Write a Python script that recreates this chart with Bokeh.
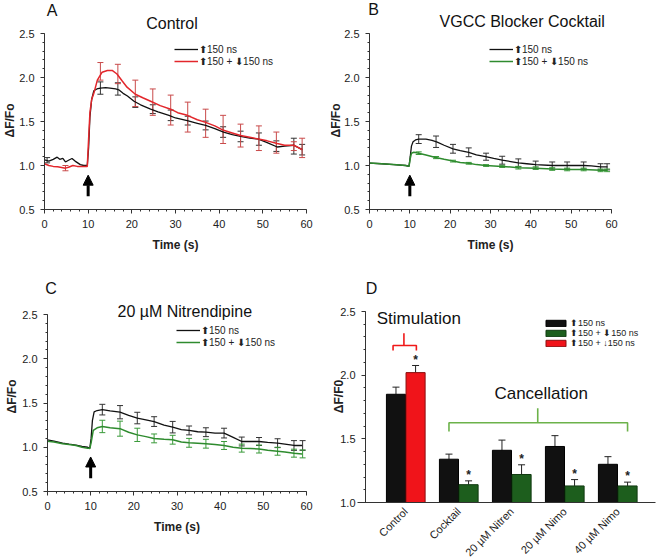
import math
from bokeh.plotting import figure
from bokeh.models import (ColumnDataSource, Whisker, TeeHead, Arrow, NormalHead, Label,
                          SingleIntervalTicker, FixedTicker, Legend, LegendItem, Range1d,
                          NumeralTickFormatter)
from bokeh.layouts import column, row
from bokeh.embed import file_html
from bokeh.resources import INLINE
from bokeh.core.properties import value

FONT = "Liberation Sans"
BLACK = "#111111"
RED = "#e3262b"
GREEN = "#2e8b2e"
DGREEN = "#1d5e1d"
AXC = "#333333"

# ---------------- Panel A: Control ----------------
a_t_black = [0, 1, 2, 2.9, 3.5, 4.2, 4.8, 5.5, 6.3, 7, 8.2, 9, 9.8, 10.1, 10.4, 10.8, 11.3, 12, 12.8, 14, 15,
             16.3, 17, 18, 19, 20.5, 22, 24.3, 26, 28.5, 30, 32.7, 35, 36.9, 39, 41, 43, 44.9, 47, 49, 51,
             53.3, 55, 57.1, 59]
a_v_black = [1.065, 1.05, 1.07, 1.095, 1.07, 1.08, 1.04, 1.06, 1.08, 1.05, 1.01, 1.0, 1.0, 1.2, 1.55, 1.75,
             1.85, 1.87, 1.88, 1.885, 1.88, 1.87, 1.86, 1.82, 1.79, 1.73, 1.69, 1.64, 1.61, 1.57, 1.54, 1.51,
             1.48, 1.455, 1.42, 1.38, 1.35, 1.33, 1.31, 1.30, 1.26, 1.21, 1.22, 1.23, 1.18]
a_t_red = [0, 1, 2, 3, 4.8, 5.5, 6.5, 7.5, 8.5, 9.8, 10.1, 10.4, 10.8, 11.3, 12.1, 13.2, 14.4, 15.5, 16.6,
           17.8, 18.9, 20.8, 22.5, 24.3, 26.5, 28.9, 30.5, 32.7, 35, 36.9, 39, 41, 43, 44.9, 47, 49, 51,
           53.3, 55, 57.1, 59]
a_v_red = [1.02, 1.0, 0.99, 0.985, 0.97, 0.98, 1.0, 0.99, 0.99, 0.99, 1.3, 1.6, 1.75, 1.82, 1.97, 2.06, 2.08,
           2.08, 2.04, 1.96, 1.89, 1.81, 1.77, 1.73, 1.68, 1.64, 1.60, 1.57, 1.52, 1.49, 1.45, 1.40, 1.37,
           1.34, 1.32, 1.30, 1.28, 1.25, 1.23, 1.23, 1.18]
a_err_t_black = [0.6, 12.8, 16.8, 20.8, 24.8, 28.9, 32.8, 36.9, 40.9, 44.9, 49.1, 53.1, 57.1, 59.0]
a_err_m_black = [1.06, 1.88, 1.87, 1.72, 1.64, 1.57, 1.51, 1.455, 1.38, 1.33, 1.30, 1.22, 1.22, 1.18]
a_err_e_black = [0.03, 0.07, 0.07, 0.06, 0.05, 0.06, 0.05, 0.05, 0.06, 0.06, 0.07, 0.06, 0.09, 0.06]
a_err_t_red = [4.8, 12.8, 16.8, 20.8, 24.8, 28.9, 32.8, 36.9, 40.9, 44.9, 49.1, 53.1, 57.1, 59.0]
a_err_m_red = [0.97, 2.07, 2.04, 1.82, 1.72, 1.63, 1.55, 1.48, 1.41, 1.34, 1.31, 1.26, 1.22, 1.20]
a_err_e_red = [0.03, 0.10, 0.11, 0.15, 0.15, 0.17, 0.17, 0.16, 0.16, 0.13, 0.14, 0.12, 0.05, 0.11]

# ---------------- Panel B: VGCC Blocker Cocktail ----------------
b_t_black = [0, 3, 6, 9, 9.8, 10.1, 10.4, 10.8, 11.4, 12.2, 14, 15.5, 16.8, 18.5, 20.7, 22.5, 24.6, 26.5,
             28.8, 30.8, 32.9, 35, 36.9, 39, 41.2, 45.3, 49, 53.1, 55, 57.3, 59]
b_v_black = [1.027, 1.02, 1.01, 1.0, 0.99, 1.1, 1.22, 1.27, 1.29, 1.30, 1.30, 1.285, 1.265, 1.23, 1.19, 1.17,
             1.15, 1.12, 1.10, 1.08, 1.06, 1.045, 1.03, 1.02, 1.01, 1.0, 1.0, 1.0, 0.995, 0.985, 0.985]
b_t_green = [0, 3, 6, 9, 9.8, 10.1, 10.4, 11, 12.2, 14, 16.4, 18.5, 20.7, 22.5, 24.6, 26.5, 28.8, 32.9, 36.9,
             41.2, 45.3, 49, 53.1, 57.3, 59]
b_v_green = [1.027, 1.02, 1.01, 1.0, 0.99, 1.08, 1.14, 1.15, 1.14, 1.12, 1.09, 1.07, 1.05, 1.035, 1.025,
             1.01, 1.0, 0.99, 0.975, 0.97, 0.96, 0.955, 0.955, 0.945, 0.945]
b_err_t = [12.2, 16.5, 20.7, 24.6, 28.9, 32.9, 36.9, 41.2, 45.3, 49.0, 53.1, 57.3, 58.9]
b_err_m_black = [1.30, 1.27, 1.19, 1.15, 1.10, 1.06, 1.03, 1.01, 1.0, 1.0, 1.0, 0.985, 0.985]
b_err_e_black = [0.05, 0.065, 0.05, 0.05, 0.04, 0.045, 0.045, 0.04, 0.04, 0.04, 0.04, 0.035, 0.035]
b_err_m_green = [1.14, 1.09, 1.05, 1.025, 1.0, 0.99, 0.975, 0.97, 0.96, 0.955, 0.955, 0.945, 0.945]
b_err_e_green = [0.015, 0.012, 0.01, 0.01, 0.01, 0.012, 0.015, 0.015, 0.015, 0.015, 0.015, 0.015, 0.015]

# ---------------- Panel C: 20 uM Nitrendipine ----------------
c_t_black = [0, 1.5, 3.5, 5, 6.6, 8, 9.3, 9.8, 10.1, 10.4, 10.8, 11.5, 12.7, 14.5, 16.8, 18.8, 20.8, 22.8,
             24.7, 27, 29, 31, 32.8, 34.8, 36.7, 38.8, 40.9, 42.9, 45, 47, 49, 51, 53.3, 55, 57.1, 59]
c_v_black = [1.084, 1.07, 1.046, 1.035, 1.025, 1.01, 1.0, 0.99, 1.1, 1.3, 1.40, 1.415, 1.425, 1.41, 1.396,
             1.36, 1.33, 1.31, 1.29, 1.25, 1.227, 1.20, 1.19, 1.175, 1.17, 1.16, 1.16, 1.115, 1.065, 1.065,
             1.065, 1.055, 1.046, 1.035, 1.02, 1.02]
c_t_green = [0, 1.5, 3.5, 5, 6.6, 8, 9.3, 9.8, 10.1, 10.6, 11.5, 12.7, 14.5, 16.8, 18.8, 20.8, 22.8, 24.7,
             27, 29, 31, 32.8, 34.8, 36.7, 38.8, 40.9, 43, 45, 47, 49, 51, 53.3, 55, 57.1, 59]
c_v_green = [1.068, 1.06, 1.04, 1.03, 1.02, 1.0, 0.99, 0.985, 1.05, 1.19, 1.22, 1.235, 1.22, 1.21, 1.17,
             1.14, 1.12, 1.10, 1.09, 1.085, 1.06, 1.05, 1.045, 1.04, 1.03, 1.02, 1.0, 0.99, 0.985, 0.98,
             0.965, 0.955, 0.945, 0.933, 0.925]
c_err_t = [12.7, 16.8, 20.8, 24.7, 29.0, 32.8, 36.7, 40.9, 45.0, 49.0, 53.3, 57.1, 59.1]
c_err_m_black = [1.425, 1.396, 1.33, 1.29, 1.227, 1.19, 1.17, 1.16, 1.065, 1.065, 1.046, 1.02, 1.02]
c_err_e_black = [0.06, 0.075, 0.065, 0.055, 0.065, 0.05, 0.05, 0.055, 0.05, 0.045, 0.05, 0.055, 0.055]
c_err_m_green = [1.235, 1.21, 1.14, 1.10, 1.085, 1.05, 1.04, 1.02, 0.99, 0.98, 0.955, 0.933, 0.925]
c_err_e_green = [0.07, 0.085, 0.075, 0.05, 0.05, 0.05, 0.05, 0.045, 0.045, 0.045, 0.045, 0.045, 0.045]

# ---------------- Panel D: bar summary ----------------
categories = ["Control", "Cocktail", "20 µM Nitren", "20 µM Nimo", "40 µM Nimo"]
d_150 = [1.85, 1.34, 1.41, 1.44, 1.30]
d_150_err = [0.056, 0.04, 0.08, 0.085, 0.06]
d_comb = [2.02, 1.14, 1.22, 1.13, 1.13]
d_comb_err = [0.056, 0.03, 0.076, 0.05, 0.03]
d_sig = [True, True, True, True, True]

stim_label = "Stimulation"
canc_label = "Cancellation"
legend_labels = ["⬆150 ns", "⬆150 + ⬇150 ns"]
legend_labels_d = ["⬆150 ns", "⬆150 + ⬇150 ns", "⬆150 + ↓150 ns"]


def make_conv(L, R, T, B, x0, x1, y0, y1):
    def conv(px, py):
        return (x0 + (px - L) / (R - L) * (x1 - x0), y1 - (py - T) / (B - T) * (y1 - y0))
    return conv


def make_fig(origin, size, geom, dom):
    """Figure whose frame is the whole canvas; axes are pinned with fixed_location/bounds."""
    ox, oy = origin
    w, h = size
    conv = make_conv(*geom, *dom)
    xs, ye = conv(ox, oy)
    xe, ys = conv(ox + w, oy + h)
    p = figure(width=w, height=h, x_range=Range1d(xs, xe), y_range=Range1d(ys, ye),
               output_backend="svg", toolbar_location=None,
               min_border_left=0, min_border_right=0, min_border_top=0, min_border_bottom=0)
    p.title.visible = False
    p.background_fill_color = "white"
    p.border_fill_color = "white"
    p.xgrid.visible = False
    p.ygrid.visible = False
    p.outline_line_color = None
    for ax in p.xaxis + p.yaxis:
        ax.axis_line_color = AXC
        ax.major_tick_line_color = AXC
        ax.minor_tick_line_color = AXC
        ax.major_tick_in = 0
        ax.major_tick_out = 4
        ax.minor_tick_in = 0
        ax.minor_tick_out = 2
        ax.major_label_text_font = FONT
        ax.major_label_text_font_size = "11px"
        ax.major_label_text_color = "#222222"
        ax.axis_label_text_font = FONT
        ax.axis_label_text_font_size = "12px"
        ax.axis_label_text_font_style = "bold"
        ax.axis_label_text_color = "#222222"
    p.yaxis.major_label_standoff = 6
    p.yaxis.ticker = SingleIntervalTicker(interval=0.5, num_minor_ticks=5)
    p.yaxis.formatter = NumeralTickFormatter(format="0.0")
    return p, conv


def add_label(p, conv, px, py, text, size, style="normal", angle=0.0, color="#111111"):
    x, y = conv(px, py)
    p.add_layout(Label(x=x, y=y, text=text, text_font=FONT, text_font_size=size,
                       text_font_style=style, text_align="center", text_baseline="middle",
                       angle=angle, text_color=color))


def add_whisker(p, t, m, e, color, size=6):
    src = ColumnDataSource(dict(base=t, upper=[a + b for a, b in zip(m, e)],
                                lower=[a - b for a, b in zip(m, e)]))
    p.add_layout(Whisker(base="base", upper="upper", lower="lower", source=src, dimension="height",
                         line_color=color, line_width=1,
                         upper_head=TeeHead(size=size, line_color=color, line_width=1),
                         lower_head=TeeHead(size=size, line_color=color, line_width=1)))


def time_panel(origin, size, geom, letter, letter_px, title, title_px, ylab_px,
               tb, vb, tc, vc, color2, ecol2,
               eb_t, eb_m, eb_e, ec_t, ec_m, ec_e, leg_loc):
    p, conv = make_fig(origin, size, geom, (0, 60, 0.5, 2.5))
    p.xaxis.fixed_location = 0.5
    p.xaxis.bounds = (0, 60)
    p.yaxis.fixed_location = 0
    p.yaxis.bounds = (0.5, 2.5)
    p.xaxis.ticker = SingleIntervalTicker(interval=10, num_minor_ticks=5)
    p.xaxis.axis_label = "Time (s)"
    p.xaxis.axis_label_standoff = 7
    p.xaxis.major_label_standoff = 6

    r1 = p.line(tb, vb, line_color=BLACK, line_width=1.3)
    r2 = p.line(tc, vc, line_color=color2, line_width=1.5)
    add_whisker(p, eb_t, eb_m, eb_e, "#333333")
    add_whisker(p, ec_t, ec_m, ec_e, ecol2)

    p.add_layout(Arrow(x_start=10, y_start=0.65, x_end=10, y_end=0.89, line_width=3, line_color="black",
                       end=NormalHead(size=10, fill_color="black", line_color="black", line_width=1)))

    leg = Legend(items=[LegendItem(label=legend_labels[0], renderers=[r1]),
                        LegendItem(label=legend_labels[1], renderers=[r2])],
                 location=leg_loc, border_line_color=None, background_fill_alpha=0,
                 padding=0, spacing=0, margin=0, glyph_width=24, glyph_height=12, label_height=12,
                 label_standoff=1, label_text_font=FONT, label_text_font_size="10px",
                 label_text_color="#222222")
    p.add_layout(leg)

    add_label(p, conv, letter_px[0], letter_px[1], letter, "16px")
    add_label(p, conv, title_px[0], title_px[1], title, "16px")
    add_label(p, conv, ylab_px[0], ylab_px[1], "ΔF/Fo", "12px", style="bold", angle=math.pi / 2,
              color="#222222")
    return p


# canvas split: top row 274 px, bottom row 286 px (page coordinates kept in geometry tuples)
W1, W2, H1, H2 = 330, 327, 274, 286

pA = time_panel((0, 0), (W1, H1), (44, 306, 33, 209), "A", (51.5, 10), "Control", (171.5, 23), (9, 120),
                a_t_black, a_v_black, a_t_red, a_v_red, RED, "#c94a4a",
                a_err_t_black, a_err_m_black, a_err_e_black, a_err_t_red, a_err_m_red, a_err_e_red,
                (174, H1 - 67))
pB = time_panel((W1, 0), (W2, H1), (369, 611, 33, 209), "B", (373, 9), "VGCC Blocker Cocktail",
                (521.7, 21), (335, 120),
                b_t_black, b_v_black, b_t_green, b_v_green, GREEN, "#3a9a3a",
                b_err_t, b_err_m_black, b_err_e_black, b_err_t, b_err_m_green, b_err_e_green,
                (159, H1 - 67))
pC = time_panel((0, H1), (W1, H2), (47, 306, 314, 491), "C", (50.5, 288), "20 µM Nitrendipine",
                (184.3, 310.5), (11, 396),
                c_t_black, c_v_black, c_t_green, c_v_green, GREEN, "#3a9a3a",
                c_err_t, c_err_m_black, c_err_e_black, c_err_t, c_err_m_green, c_err_e_green,
                (176, 560 - 348))

# ---------------- Panel D ----------------
geomD = (365, 648, 311, 502)
pD, convD = make_fig((W1, H1), (W2, H2), geomD, (0.24, 5.58, 1.0, 2.5))
pD.yaxis.fixed_location = 0.24
pD.yaxis.bounds = (1.0, 2.5)
pD.xaxis.fixed_location = 1.0
pD.xaxis.bounds = (convD(357, 0)[0], convD(655, 0)[0])
pD.xaxis.ticker = FixedTicker(ticks=[i + 1 for i in range(len(categories))], minor_ticks=[])
pD.xaxis.major_label_overrides = {i + 1: c for i, c in enumerate(categories)}
pD.xaxis.major_label_orientation = math.pi / 4
pD.xaxis.major_tick_line_color = None
pD.xaxis.major_label_text_font_size = "11px"
pD.xaxis.major_label_standoff = 3

off, bw = 0.185, 0.36
xs = [i + 1 for i in range(len(categories))]
x_black = [x - off for x in xs]
x_second = [x + off for x in xs]
rb = pD.vbar(x=x_black, top=d_150, bottom=1.0, width=bw, fill_color=BLACK, line_color="black")
rg = pD.vbar(x=x_second[1:], top=d_comb[1:], bottom=1.0, width=bw, fill_color=DGREEN, line_color="#103a10")
rr = pD.vbar(x=x_second[:1], top=d_comb[:1], bottom=1.0, width=bw, fill_color="#f0141a", line_color="#8a1010")

for xx, tt, ee in ((x_black, d_150, d_150_err), (x_second, d_comb, d_comb_err)):
    src = ColumnDataSource(dict(base=xx, upper=[a + b for a, b in zip(tt, ee)], lower=tt))
    pD.add_layout(Whisker(base="base", upper="upper", lower="lower", source=src, dimension="height",
                          line_color="#222222", line_width=1, lower_head=None,
                          upper_head=TeeHead(size=7, line_color="#222222", line_width=1)))

star_x = [x for x, s in zip(x_second, d_sig) if s]
star_y = [t + e + 0.045 for t, e, s in zip(d_comb, d_comb_err, d_sig) if s]
pD.text(x=star_x, y=star_y, text=["*"] * len(star_x), text_font=value(FONT), text_font_size="12px",
        text_font_style="bold", text_align="center", text_baseline="middle", text_color="#222222")

# brackets
stim_top = 2.233
pD.multi_line(xs=[[0.76, 0.76, 1.2, 1.2], [0.965, 0.965]],
              ys=[[stim_top - 0.04, stim_top, stim_top, stim_top - 0.04], [stim_top, stim_top + 0.097]],
              line_color="#f01818", line_width=1.6)
canc_top = 1.626
pD.multi_line(xs=[[x_black[1], x_black[1], x_second[4], x_second[4]], [3.49, 3.49]],
              ys=[[canc_top - 0.068, canc_top, canc_top, canc_top - 0.068], [canc_top, canc_top + 0.114]],
              line_color="#6cb24a", line_width=1.6)

add_label(pD, convD, 418.3, 318, stim_label, "17px")
add_label(pD, convD, 540.7, 393.3, canc_label, "17px")
add_label(pD, convD, 371, 288, "D", "16px")
add_label(pD, convD, 338, 396, "ΔF/F0", "12px", style="bold", angle=math.pi / 2, color="#222222")

legD = Legend(items=[LegendItem(label=legend_labels_d[0], renderers=[rb]),
                     LegendItem(label=legend_labels_d[1], renderers=[rg]),
                     LegendItem(label=legend_labels_d[2], renderers=[rr])],
              location=(213, 212), border_line_color=None, background_fill_alpha=0,
              padding=0, spacing=0, margin=0, glyph_width=25, glyph_height=8, label_height=8,
              label_standoff=2, label_text_font=FONT, label_text_font_size="9px",
              label_text_color="#222222")
pD.add_layout(legD)

layout = column(row(pA, pB), row(pC, pD))
open("out.html", "w").write(file_html(layout, INLINE))
